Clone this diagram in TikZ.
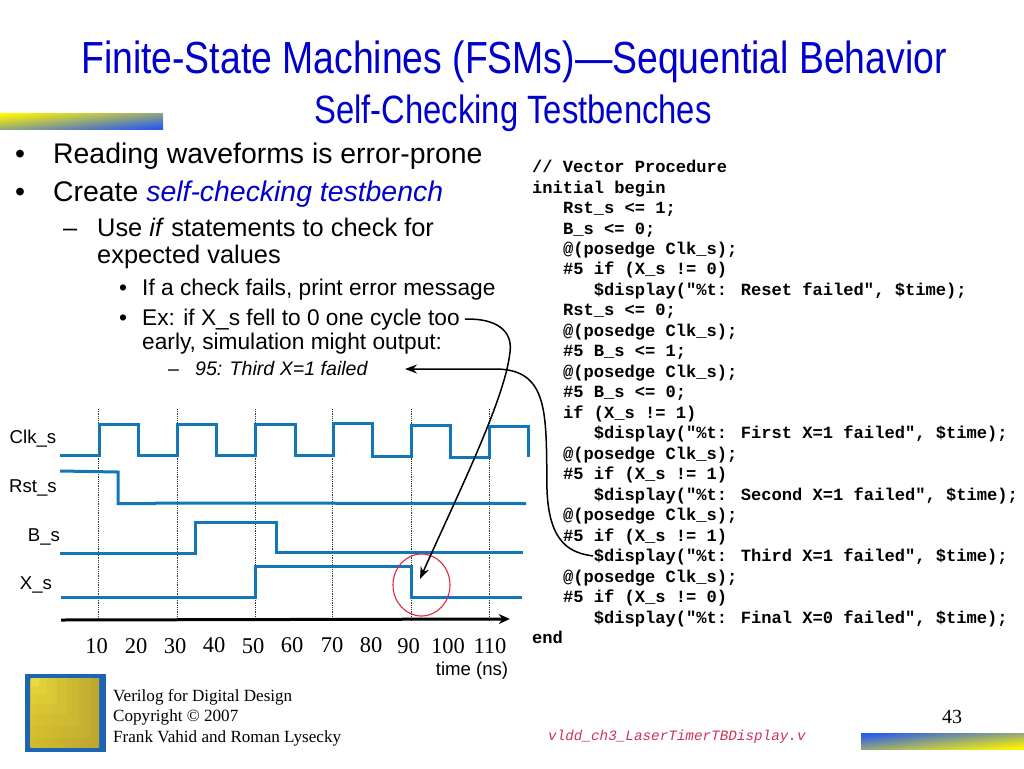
\documentclass[tikz,border=0pt]{standalone}
\usepackage{fontspec}
\setmainfont{Liberation Sans}
\newfontfamily\timesfont{Liberation Serif}
\newfontfamily\codefont{Liberation Mono}
\usetikzlibrary{arrows.meta}
\definecolor{slideblue}{RGB}{0,0,204}
\definecolor{wireblue}{RGB}{18,118,184}
\definecolor{framered}{RGB}{225,40,60}
\definecolor{filepink}{RGB}{205,50,85}
\definecolor{barblue}{RGB}{40,90,240}
\definecolor{baryellow}{RGB}{255,245,0}
\definecolor{logoblue}{RGB}{30,100,180}
\definecolor{logogold}{RGB}{205,180,50}
\tikzstyle{titletext} = [anchor=center, inner sep=0, text=slideblue, transform shape]
\tikzstyle{bodytext} = [anchor=base west, inner sep=0, align=left]
\tikzstyle{big} = [bodytext, font=\fontsize{28.4}{32}\selectfont]
\tikzstyle{mid} = [bodytext, font=\fontsize{25.4}{27}\selectfont]
\tikzstyle{small} = [bodytext, font=\fontsize{22.7}{24}\selectfont]
\tikzstyle{tiny} = [bodytext, font=\fontsize{19.6}{22}\selectfont\itshape]
\tikzstyle{signal} = [anchor=center, inner sep=0, font=\fontsize{18.6}{20}\selectfont]
\tikzstyle{tick} = [anchor=center, inner sep=0, font=\timesfont\fontsize{22.5}{24}\selectfont]
\tikzstyle{foot} = [anchor=base west, inner sep=0, font=\timesfont\fontsize{17.1}{20.5}\selectfont]
\tikzstyle{wire} = [line width=3pt, draw=wireblue]
\tikzstyle{clockline} = [densely dotted, line width=0.8pt, draw=black!80]
\tikzstyle{callout} = [line width=1.5pt, -{Stealth[length=12pt,width=9pt]}]
\newcommand{\inone}{\hspace*{30.8pt}}
\newcommand{\intwo}{\hspace*{61.6pt}}

\begin{document}
\begin{tikzpicture}[x=1pt, y=-1pt]
\useasboundingbox (0,0) rectangle (1024,768);

\node (title) [titletext, xscale=0.83, font=\fontsize{45}{48}\selectfont] at (514,62) {Finite-State Machines (FSMs)---Sequential Behavior};
\node (subtitle) [titletext, xscale=0.83, font=\fontsize{39.5}{42}\selectfont] at (513,113) {Self-Checking Testbenches};

% gradient bars
\shade [top color=baryellow, bottom color=barblue, shading angle=6] (0,113) rectangle (163,129);
\shade [top color=barblue, bottom color=baryellow, shading angle=6] (861,733) rectangle (1024,749);

% left text
\node (dotone) [big] at (15,163) {•};
\node (reading) [big] at (53,163) {Reading waveforms is error-prone};
\node (dottwo) [big] at (15,201) {•};
\node (create) [big] at (53,201) {Create {\color{slideblue}\itshape self-checking testbench}};
\node (dashone) [mid] at (63,236) {–};
\node (useif) [mid] at (97,236) {Use \textit{if} statements to check for};
\node (expected) [mid] at (97,263) {expected values};
\node (dotthree) [small] at (119,295) {•};
\node (check) [small] at (142,295) {If a check fails, print error message};
\node (dotfour) [small] at (119,325) {•};
\node (exline) [small] at (142,325) {Ex: if X\_s fell to 0 one cycle too};
\node (earlyline) [small] at (142,349) {early, simulation might output:};
\node (dashtwo) [tiny] at (168,375) {–};
\node (failtext) [tiny] at (195,375) {95: Third X=1 failed};

% code
\node (vectorcode) [anchor=north west, inner sep=0, align=left, font=\codefont\bfseries\fontsize{17.1}{20.48}\selectfont] at (532,160) {%
// Vector Procedure\\
initial begin\\
\inone Rst\_s <= 1;\\
\inone B\_s <= 0;\\
\inone @(posedge Clk\_s);\\
\inone \#5 if (X\_s != 0)\\
\intwo \$display("\%t: Reset failed", \$time);\\
\inone Rst\_s <= 0;\\
\inone @(posedge Clk\_s);\\
\inone \#5 B\_s <= 1;\\
\inone @(posedge Clk\_s);\\
\inone \#5 B\_s <= 0;\\
\inone if (X\_s != 1)\\
\intwo \$display("\%t: First X=1 failed", \$time);\\
\inone @(posedge Clk\_s);\\
\inone \#5 if (X\_s != 1)\\
\intwo \$display("\%t: Second X=1 failed", \$time);\\
\inone @(posedge Clk\_s);\\
\inone \#5 if (X\_s != 1)\\
\intwo \$display("\%t: Third X=1 failed", \$time);\\
\inone @(posedge Clk\_s);\\
\inone \#5 if (X\_s != 0)\\
\intwo \$display("\%t: Final X=0 failed", \$time);\\
end};

% waveforms
\foreach \x in {98,177,255,332.5,411,489}
  \draw [clockline] (\x,409) -- (\x,620);
\draw [wire] (60,455) -- (99,455) -- (99,424) -- (138.5,424) -- (138.5,455) -- (177,455) -- (177,424) -- (216.5,424) -- (216.5,455) -- (255.5,455) -- (255.5,424) -- (295,424) -- (295,455) -- (333.5,455) -- (333.5,423.5) -- (372.5,423.5) -- (372.5,456.5) -- (411,456.5) -- (411,425) -- (450,425) -- (450,457) -- (489,457) -- (489,426) -- (528,426) -- (528,457);
\draw [wire] (60,471) -- (118,472) -- (118,503.5) -- (155,503.5) -- (156,503) -- (526,503.5);
\draw [wire] (60,553) -- (195,553) -- (195,522.5) -- (276,522.5) -- (276,552.5) -- (523,552.5);
\draw [wire] (61,597) -- (255.5,597) -- (255.5,566) -- (411,566) -- (411,597) -- (522,597);
\node (timestart) [inner sep=0, minimum size=0] at (61,620) {};
\node (timeend) [inner sep=0, minimum size=0] at (510,619) {};
\draw [line width=3pt, -{Stealth[length=11pt,width=10pt]}] (timestart) -- (timeend);
\draw [framered, line width=1.1pt] (421.5,585) ellipse (28.5 and 31);

\node (clklabel) [signal] at (33,439) {Clk\_s};
\node (rstlabel) [signal] at (33,488) {Rst\_s};
\node (blabel) [signal] at (44,537) {B\_s};
\node (xlabel) [signal] at (36,585) {X\_s};

\foreach \name/\x/\y in {10/96.5/646,20/136/646,30/175/646,40/214/645,50/253/646,60/292/645,70/332/645,80/371/645,90/408.5/646,100/448/646,110/490/646}
  \node (tick\name) [tick] at (\x,\y) {\name};
\node (timelabel) [signal] at (472,671) {time (ns)};

% callouts
\coordinate (droptip) at (420,579);
\coordinate (thirdline) at (593,556);
\coordinate (failtip) at (405,369);
\draw [callout] ([xshift=5pt]exline.east) .. controls (495,318) and (513,330) .. (510,352) .. controls (505,400) and (455,500) .. (droptip);
\draw [callout] (thirdline) .. controls (572,553) and (549,545) .. (547,490) .. controls (546,415) and (550,369) .. (495,369) -- (failtip);

% footer
\node (logoframe) [anchor=north west, inner sep=0, minimum width=81pt, minimum height=78pt, fill=logoblue] at (25,674) {};
\shade [left color=logogold!90!yellow, right color=logogold!92!black] (30.5,678) rectangle (99,747);
\foreach \s/\o in {60/0.07,48/0.08,36/0.1,26/0.12,16/0.14,8/0.25}
  \fill [white!30!yellow, opacity=\o] (30.5,678) rectangle (30.5+\s,678+\s);
\node (creditone) [foot] at (113,701) {Verilog for Digital Design};
\node (credittwo) [foot] at (113,721) {Copyright © 2007};
\node (creditthree) [foot] at (113,742) {Frank Vahid and Roman Lysecky};
\node (pagenum) [anchor=center, inner sep=0, font=\timesfont\fontsize{20}{24}\selectfont] at (952,717) {43};
\node (filename) [anchor=base west, inner sep=0, text=filepink, font=\codefont\itshape\fontsize{14.3}{16}\selectfont] at (548,740) {vldd\_ch3\_LaserTimerTBDisplay.v};

\end{tikzpicture}
\end{document}
